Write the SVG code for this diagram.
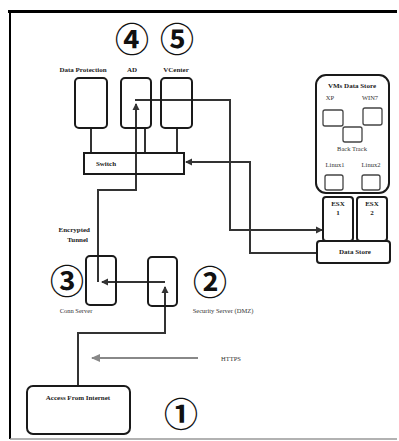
<svg xmlns="http://www.w3.org/2000/svg" width="399" height="441" viewBox="0 0 399 441">
<style>
.box{fill:#fff;stroke:#1a1a1a;stroke-width:2}
.sm{fill:#fff;stroke:#444;stroke-width:1.3}
.ln{fill:none;stroke:#333;stroke-width:2}
.t{font-family:"Liberation Serif",serif;font-size:7px;font-weight:bold;fill:#222;text-anchor:middle}
.n{font-family:"Liberation Serif",serif;font-size:6.5px;fill:#333;text-anchor:middle}
.c{font-family:"Noto Sans CJK SC","DejaVu Sans",sans-serif;font-size:34px;font-weight:bold;fill:#111;text-anchor:middle}
</style>
<defs>
<marker id="a" markerWidth="8" markerHeight="8" refX="6" refY="4" orient="auto" markerUnits="userSpaceOnUse"><path d="M0,0.5 L7,4 L0,7.5 Z" fill="#333"/></marker>
<marker id="g" markerWidth="10" markerHeight="10" refX="8" refY="5" orient="auto" markerUnits="userSpaceOnUse"><path d="M0,1 L9,5 L0,9 Z" fill="#888"/></marker>
</defs>
<rect width="399" height="441" fill="#fff"/>
<g id="frame">
<line x1="8" y1="11.5" x2="397" y2="11.5" stroke="#000" stroke-width="3"/>
<line x1="10" y1="10" x2="10" y2="439" stroke="#000" stroke-width="2"/>
<line x1="10" y1="439" x2="397" y2="439" stroke="#999" stroke-width="1.5"/>
</g>
<g id="connectors">
<path class="ln" d="M91,128 V153 M145,128 V153 M177,128 V153"/>
<path class="ln" d="M78,386 V333 H165 V287" marker-end="url(#a)"/>
<path class="ln" d="M165,282 H102" marker-end="url(#a)"/>
<path class="ln" d="M98,282 V190 H136 V104" marker-end="url(#a)"/>
<path class="ln" d="M135,100 H230 V230 H322" marker-end="url(#a)"/>
<path class="ln" d="M317,253 H250 V162 H186" marker-end="url(#a)"/>
<path fill="none" stroke="#888" stroke-width="2" d="M198,358 H92" marker-end="url(#g)"/>
</g>
<g id="n4"><text class="c" x="132" y="52">④</text></g>
<g id="n5"><text class="c" x="177" y="52">⑤</text></g>
<g id="dataprotection"><text class="t" x="83" y="72">Data Protection</text><rect class="box" x="75" y="78" width="32" height="50" rx="4"/></g>
<g id="ad"><text class="t" x="132" y="72">AD</text><rect class="box" x="121" y="78" width="30" height="50" rx="4" fill-opacity="0"/></g>
<g id="vcenter"><text class="t" x="176" y="72">VCenter</text><rect class="box" x="161" y="78" width="31" height="50" rx="4" fill-opacity="0"/></g>
<g id="switch"><rect class="box" x="84" y="153" width="100" height="21" fill-opacity="0"/><text class="t" x="106" y="165.5">Switch</text></g>
<g id="vmstore">
<rect class="box" x="316" y="75" width="73" height="118" rx="10"/>
<text class="t" x="352" y="88">VMs Data Store</text>
<text class="n" x="330" y="100">XP</text><text class="n" x="370" y="100">WIN7</text>
<rect class="sm" x="323" y="110" width="20" height="16" rx="2"/>
<rect class="sm" x="363" y="108" width="19" height="17" rx="2"/>
<rect class="sm" x="343" y="127" width="19" height="15" rx="2"/>
<text class="n" x="352" y="151">Back Track</text>
<text class="n" x="335" y="167">Linux1</text><text class="n" x="371" y="167">Linux2</text>
<rect class="sm" x="325" y="175" width="18" height="15" rx="2"/>
<rect class="sm" x="362" y="175" width="18" height="15" rx="2"/>
</g>
<g id="esx1"><rect class="box" x="323" y="197" width="30" height="44" rx="3"/><text class="t" x="338" y="206">ESX</text><text class="t" x="338" y="215">1</text></g>
<g id="esx2"><rect class="box" x="357" y="197" width="30" height="44" rx="3"/><text class="t" x="372" y="206">ESX</text><text class="t" x="372" y="215">2</text></g>
<g id="datastore"><rect class="box" x="317" y="241" width="73" height="22" rx="3"/><text class="t" x="355" y="254">Data Store</text></g>
<g id="tunnel"><text class="t" x="90" y="232" style="text-anchor:end">Encrypted</text><text class="t" x="88" y="242" style="text-anchor:end">Tunnel</text></g>
<g id="n3"><text class="c" x="67" y="294">③</text></g>
<g id="connserver"><rect class="box" x="86" y="256" width="30" height="49" rx="4" fill-opacity="0"/><text class="n" x="76" y="313">Conn Server</text></g>
<g id="n2"><text class="c" x="210" y="295">②</text></g>
<g id="securityserver"><rect class="box" x="148" y="257" width="29" height="49" rx="4" fill-opacity="0"/><text class="n" x="223" y="313">Security Server  (DMZ)</text></g>
<g id="https"><text class="n" x="231" y="361">HTTPS</text></g>
<g id="access"><rect class="box" x="27" y="386" width="103" height="48" rx="6"/><text class="t" x="78" y="400">Access From Internet</text></g>
<g id="n1"><text class="c" x="181" y="427">①</text></g>
</svg>
